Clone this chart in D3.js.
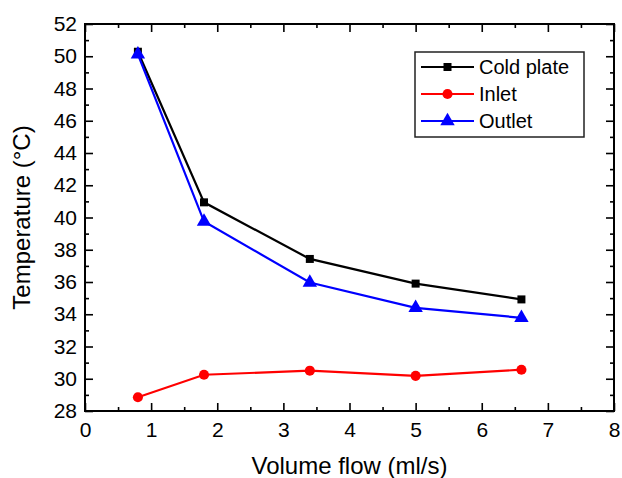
<!DOCTYPE html>
<html>
<head>
<meta charset="utf-8">
<script src="https://cdn.jsdelivr.net/npm/d3@7"></script>
<style>
  html, body { margin: 0; padding: 0; background: #fff; }
  svg { display: block; font-family: "Liberation Sans", Arial, sans-serif; }
</style>
</head>
<body>
<div id="chart"></div>
<script>
// Data
const flow = [0.8, 1.8, 3.4, 5.0, 6.6];
const coldPlate = [50.28, 40.94, 37.43, 35.9, 34.92];
const inlet = [28.85, 30.25, 30.5, 30.18, 30.56];
const outlet = [50.12, 39.75, 35.97, 34.4, 33.78];

const seriesNames = ['Cold plate', 'Inlet', 'Outlet'];
const seriesColors = ['#000000', '#ff0000', '#0000ff'];
const seriesSymbols = [d3.symbolSquare, d3.symbolCircle, d3.symbolTriangle];
const seriesValues = [coldPlate, inlet, outlet];

const xTicks = [0, 1, 2, 3, 4, 5, 6, 7, 8];
const yTicks = [28, 30, 32, 34, 36, 38, 40, 42, 44, 46, 48, 50, 52];

const width = 622, height = 478;
const margin = {top: 24, right: 8, bottom: 67, left: 85};
const plotW = width - margin.left - margin.right;
const plotH = height - margin.top - margin.bottom;

const x = d3.scaleLinear().domain([0, 8]).range([0, plotW]);
const y = d3.scaleLinear().domain([28, 52]).range([plotH, 0]);

const svg = d3.select('#chart').append('svg')
    .attr('width', width)
    .attr('height', height);

const g = svg.append('g')
    .attr('transform', `translate(${margin.left},${margin.top})`);

// Minor ticks (inward), all four sides
const xMinor = d3.range(0.5, 8, 1);
const yMinor = d3.range(29, 52, 2);

function styleAxis(sel) {
    sel.select('.domain').remove();
    sel.selectAll('.tick line').attr('stroke', '#000').attr('stroke-width', 1.6);
    sel.selectAll('.tick text')
        .attr('font-size', 21)
        .attr('fill', '#000');
}

// bottom major
g.append('g').attr('transform', `translate(0,${plotH})`)
    .call(d3.axisBottom(x).tickValues(xTicks).tickSizeInner(-8).tickSizeOuter(0).tickPadding(11).tickFormat(d3.format('d')))
    .call(styleAxis);
g.append('g').attr('transform', `translate(0,${plotH})`)
    .call(d3.axisBottom(x).tickValues(xMinor).tickSize(-4).tickFormat(''))
    .call(styleAxis);
// top
g.append('g')
    .call(d3.axisTop(x).tickValues(xTicks).tickSize(-8).tickFormat(''))
    .call(styleAxis);
g.append('g')
    .call(d3.axisTop(x).tickValues(xMinor).tickSize(-4).tickFormat(''))
    .call(styleAxis);
// left major
g.append('g')
    .call(d3.axisLeft(y).tickValues(yTicks).tickSizeInner(-8).tickSizeOuter(0).tickPadding(8).tickFormat(d3.format('d')))
    .call(styleAxis);
g.append('g')
    .call(d3.axisLeft(y).tickValues(yMinor).tickSize(-4).tickFormat(''))
    .call(styleAxis);
// right
g.append('g').attr('transform', `translate(${plotW},0)`)
    .call(d3.axisRight(y).tickValues(yTicks).tickSize(-8).tickFormat(''))
    .call(styleAxis);
g.append('g').attr('transform', `translate(${plotW},0)`)
    .call(d3.axisRight(y).tickValues(yMinor).tickSize(-4).tickFormat(''))
    .call(styleAxis);

// Frame
g.append('rect')
    .attr('width', plotW)
    .attr('height', plotH)
    .attr('fill', 'none')
    .attr('stroke', '#000')
    .attr('stroke-width', 2);

// Series lines and markers
const line = d3.line()
    .x(d => x(d[0]))
    .y(d => y(d[1]));

const symbolSizes = [64, 80, 90];

seriesValues.forEach((vals, i) => {
    const pts = flow.map((f, j) => [f, vals[j]]);
    g.append('path')
        .datum(pts)
        .attr('fill', 'none')
        .attr('stroke', seriesColors[i])
        .attr('stroke-width', 2.2)
        .attr('d', line);
    g.selectAll(null)
        .data(pts)
        .enter()
        .append('path')
        .attr('transform', d => `translate(${x(d[0])},${y(d[1])})`)
        .attr('fill', seriesColors[i])
        .attr('d', d3.symbol().type(seriesSymbols[i]).size(symbolSizes[i]));
});

// Legend
const legend = svg.append('g').attr('transform', 'translate(415,52)');
legend.append('rect')
    .attr('width', 169)
    .attr('height', 85)
    .attr('fill', '#fff')
    .attr('stroke', '#222')
    .attr('stroke-width', 1.5);

seriesNames.forEach((name, i) => {
    const ly = 15 + i * 27;
    legend.append('line')
        .attr('x1', 6).attr('x2', 59)
        .attr('y1', ly).attr('y2', ly)
        .attr('stroke', seriesColors[i])
        .attr('stroke-width', 2.2);
    legend.append('path')
        .attr('transform', `translate(32.5,${ly})`)
        .attr('fill', seriesColors[i])
        .attr('d', d3.symbol().type(seriesSymbols[i]).size(symbolSizes[i]));
    legend.append('text')
        .attr('x', 64)
        .attr('y', ly + 7)
        .attr('font-size', 20)
        .attr('fill', '#000')
        .text(name);
});

// Axis titles
svg.append('text')
    .attr('x', margin.left + plotW / 2)
    .attr('y', 474)
    .attr('text-anchor', 'middle')
    .attr('font-size', 24)
    .text('Volume flow (ml/s)');

svg.append('text')
    .attr('transform', `translate(30,${margin.top + plotH / 2}) rotate(-90)`)
    .attr('text-anchor', 'middle')
    .attr('font-size', 24)
    .text('Temperature (\u00B0C)');
</script>
</body>
</html>
